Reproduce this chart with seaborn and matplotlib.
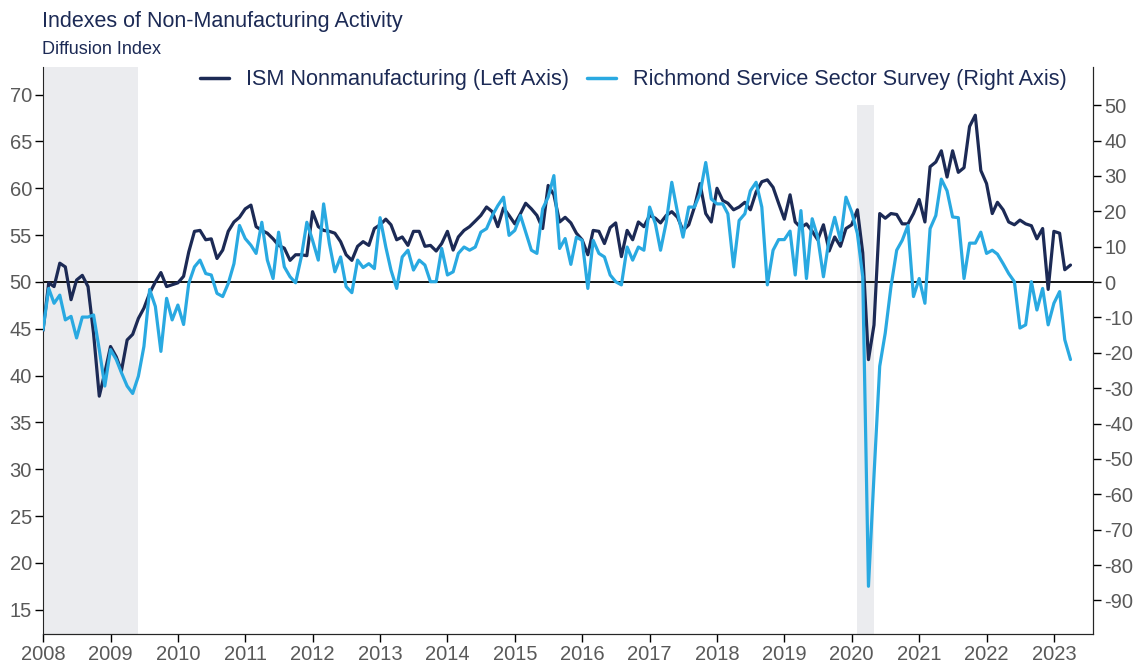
import pandas as pd
import seaborn as sns
import matplotlib.pyplot as plt
import matplotlib.dates as mdates
from matplotlib.lines import Line2D

# monthly data, Jan 2008 - Apr 2023
months = pd.date_range("2008-01-01", periods=184, freq="MS")

ism = [
    44.8, 49.9, 49.5, 52.0, 51.6, 48.1, 50.2, 50.7, 49.5, 44.5, 37.8, 40.3,  # 2008
    43.1, 42.0, 40.5, 43.8, 44.4, 46.1, 47.2, 48.8, 50.0, 51.0, 49.5, 49.7,  # 2009
    49.9, 50.6, 53.2, 55.4, 55.5, 54.5, 54.6, 52.5, 53.4, 55.4, 56.4, 56.9,  # 2010
    57.8, 58.2, 55.9, 55.5, 55.2, 54.6, 53.9, 53.6, 52.3, 52.9, 52.9, 52.8,  # 2011
    57.5, 55.9, 55.5, 55.4, 55.2, 54.3, 52.9, 52.3, 53.8, 54.3, 53.9, 55.7,  # 2012
    56.1, 56.7, 56.1, 54.5, 54.8, 53.9, 55.4, 55.4, 53.8, 53.9, 53.3, 54.1,  # 2013
    55.4, 53.4, 54.8, 55.5, 55.9, 56.5, 57.1, 58.0, 57.5, 55.9, 57.9, 57.1,  # 2014
    56.2, 57.3, 58.4, 57.8, 57.1, 55.7, 60.3, 59.3, 56.4, 56.9, 56.3, 55.2,  # 2015
    54.5, 52.9, 55.5, 55.4, 54.1, 55.8, 56.3, 52.7, 55.5, 54.5, 56.4, 55.9,  # 2016
    57.1, 56.8, 56.3, 57.1, 57.5, 56.9, 55.5, 56.1, 58.0, 60.5, 57.3, 56.4,  # 2017
    60.0, 58.7, 58.4, 57.7, 58.0, 58.5, 57.7, 59.6, 60.7, 60.9, 60.1, 58.4,  # 2018
    56.7, 59.3, 56.4, 55.8, 56.2, 55.4, 54.5, 56.1, 53.3, 54.8, 53.8, 55.7,  # 2019
    56.1, 57.7, 53.1, 41.7, 45.4, 57.3, 56.8, 57.3, 57.2, 56.2, 56.2, 57.3,  # 2020
    58.8, 56.4, 62.3, 62.8, 64.0, 61.2, 64.0, 61.7, 62.2, 66.6, 67.8, 61.9,  # 2021
    60.5, 57.3, 58.5, 57.7, 56.4, 56.1, 56.6, 56.2, 56.0, 54.6, 55.7, 49.2,  # 2022
    55.4, 55.2, 51.3, 51.8,                                                  # 2023
]

richmond = [
    -13.5, -1.8, -6.0, -3.7, -10.7, -9.7, -15.8, -9.9, -9.9, -9.3, -19.1, -29.4,
    -19.1, -21.9, -25.6, -29.4, -31.5, -26.6, -18.2, -2.1, -6.9, -19.6, -4.6, -10.7,
    -6.5, -12.0, -0.4, 4.3, 6.2, 2.4, 2.0, -3.2, -4.1, -0.4, 5.2, 16.0,
    12.3, 10.4, 8.1, 16.9, 6.2, 1.0, 14.1, 4.3, 1.5, -0.2, 7.1, 16.9,
    11.8, 6.2, 22.1, 10.9, 2.9, 7.1, -1.3, -3.0, 6.2, 4.1, 5.2, 3.8,
    18.2, 9.9, 3.4, -1.8, 7.1, 9.0, 3.4, 6.2, 4.8, 0.1, 0.1, 9.5,
    2.0, 2.9, 8.1, 9.9, 9.0, 9.9, 14.1, 15.1, 18.8, 21.6, 24.0, 13.2,
    14.6, 18.8, 14.1, 9.0, 8.1, 20.7, 24.0, 30.1, 9.5, 12.3, 5.0, 12.7,
    11.8, -1.8, 11.8, 8.1, 7.1, 2.0, 0.1, -0.8, 9.9, 6.2, 9.9, 9.0,
    21.2, 16.5, 9.0, 16.9, 28.2, 19.7, 12.7, 21.2, 21.2, 25.0, 33.8, 23.5,
    22.1, 22.1, 19.3, 4.3, 17.4, 19.3, 25.8, 28.2, 21.2, -0.8, 9.0, 12.0,
    12.0, 14.4, 2.0, 20.2, 1.0, 17.9, 12.7, 1.5, 12.2, 18.3, 11.8, 24.0,
    19.8, 13.7, 1.5, -86.0, -54.7, -23.8, -14.4, -1.3, 9.0, 11.8, 16.0, -4.1,
    1.0, -6.0, 15.1, 18.8, 29.1, 25.8, 18.4, 18.2, 1.0, 11.0, 11.0, 14.1,
    8.1, 9.0, 7.9, 5.2, 2.4, 0.1, -13.0, -12.1, 0.1, -7.9, -1.8, -12.1,
    -6.0, -2.7, -16.3, -21.9,
]

labels = ["ISM Nonmanufacturing (Left Axis)", "Richmond Service Sector Survey (Right Axis)"]
dark = "#1c2a55"
light = "#29a9e1"
grey_txt = "#595959"
shade = "#ebecef"

sns.set_style("ticks")
plt.rcParams["font.family"] = ["Liberation Sans", "DejaVu Sans"]
plt.rcParams["axes.unicode_minus"] = False

df = pd.DataFrame({"date": months, "ism": ism, "richmond": richmond})

W, H = 1141, 666
fig = plt.figure(figsize=(W / 100, H / 100), dpi=100)
ax = fig.add_axes([43 / W, 1 - 634 / H, (1093 - 43) / W, (634 - 67) / H])
ax2 = ax.twinx()

left_lim = (12.4, 72.95)
right_lim = (-99.5, 60.8)

# recessions
ax.axvspan(pd.Timestamp("2008-01-01"), pd.Timestamp("2009-06-01"), color=shade, lw=0, zorder=0)
top_frac = (50 - right_lim[0]) / (right_lim[1] - right_lim[0])
ax.axvspan(pd.Timestamp("2020-02-01"), pd.Timestamp("2020-04-30"), ymin=0, ymax=top_frac,
           color=shade, lw=0, zorder=0)
ax.axhline(50, color="black", lw=1.3, zorder=1)

sns.lineplot(data=df, x="date", y="ism", ax=ax, color=dark, lw=2.3, zorder=3)
sns.lineplot(data=df, x="date", y="richmond", ax=ax2, color=light, lw=2.3, zorder=3)

ax.set_ylim(*left_lim)
ax2.set_ylim(*right_lim)
ax.set_xlim(pd.Timestamp("2008-01-01"), pd.Timestamp("2023-08-01"))
ax.set_yticks(range(15, 71, 5))
ax2.set_yticks(range(-90, 51, 10))
ax.xaxis.set_major_locator(mdates.YearLocator())
ax.xaxis.set_major_formatter(mdates.DateFormatter("%Y"))

for a in (ax, ax2):
    a.set_xlabel("")
    a.set_ylabel("")
    a.spines["top"].set_visible(False)
    a.tick_params(direction="out", length=5.5, width=1, colors="black",
                  labelcolor=grey_txt, labelsize=14.5, pad=2.5)
    a.patch.set_visible(False)
ax2.spines["left"].set_visible(False)
ax2.spines["right"].set_visible(True)

handles = [Line2D([], [], color=dark, lw=2.5), Line2D([], [], color=light, lw=2.5)]
leg = fig.legend(handles, labels, loc="center right", bbox_to_anchor=(1067 / W, 1 - 80 / H),
                 ncol=2, frameon=False, fontsize=15.6, handlelength=1.35,
                 handletextpad=0.8, columnspacing=0.8, borderpad=0, borderaxespad=0)
for t in leg.get_texts():
    t.set_color(dark)

fig.text(42 / W, 1 - 27 / H, "Indexes of Non-Manufacturing Activity", fontsize=15.5,
         color=dark, va="baseline", ha="left")
fig.text(42 / W, 1 - 54 / H, "Diffusion Index", fontsize=13, color=dark,
         va="baseline", ha="left")

fig.savefig("out.png", dpi=100)
